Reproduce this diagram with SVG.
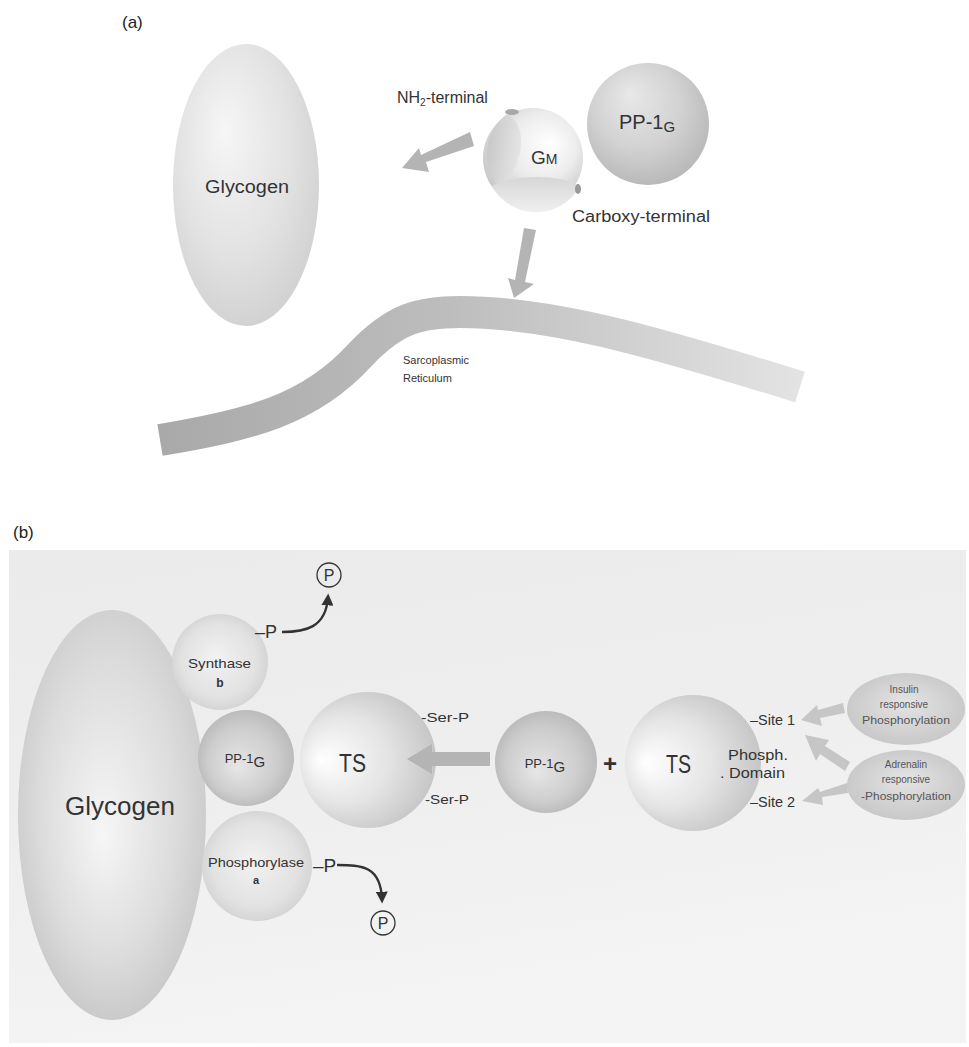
<svg xmlns="http://www.w3.org/2000/svg" width="969" height="1047" viewBox="0 0 969 1047">
  <style>
    text { font-family: "Liberation Sans", Arial, sans-serif; fill: #333; }
    .lbl { font-size: 16px; }
    .sm { font-size: 11px; }
    .tiny { font-size: 10px; fill: #555; }
    .ts { font-size: 25px; }
    .panel { font-size: 17px; fill: #222; }
    .garrow { fill: #b4b4b4; }
    .karrow { fill: #c6c6c6; }
    .pcirc { fill: none; stroke: #333; stroke-width: 1.3; }
    .pline { fill: none; stroke: #333; stroke-width: 2.4; }
  </style>
  <defs>
    <radialGradient id="gGlyA" cx="45%" cy="40%" r="65%" fx="35%" fy="30%">
      <stop offset="0" stop-color="#f6f6f6"/>
      <stop offset="0.6" stop-color="#e2e2e2"/>
      <stop offset="1" stop-color="#cfcfcf"/>
    </radialGradient>
    <radialGradient id="gGM" cx="55%" cy="40%" r="60%" fx="68%" fy="35%">
      <stop offset="0" stop-color="#ffffff"/>
      <stop offset="0.55" stop-color="#ececec"/>
      <stop offset="1" stop-color="#c8c8c8"/>
    </radialGradient>
    <linearGradient id="gGMleft" x1="0" y1="0" x2="1" y2="0.3">
      <stop offset="0" stop-color="#c4c4c4"/>
      <stop offset="1" stop-color="#e4e4e4"/>
    </linearGradient>
    <linearGradient id="gGMbowl" x1="0" y1="0" x2="0" y2="1">
      <stop offset="0" stop-color="#d6d6d6"/>
      <stop offset="1" stop-color="#f0f0f0"/>
    </linearGradient>
    <radialGradient id="gPPA" cx="45%" cy="40%" r="60%" fx="35%" fy="25%">
      <stop offset="0" stop-color="#e8e8e8"/>
      <stop offset="0.6" stop-color="#d2d2d2"/>
      <stop offset="1" stop-color="#b9b9b9"/>
    </radialGradient>
    <linearGradient id="gSR" x1="0" y1="0" x2="1" y2="0">
      <stop offset="0" stop-color="#a9a9a9"/>
      <stop offset="0.45" stop-color="#bdbdbd"/>
      <stop offset="1" stop-color="#e3e3e3"/>
    </linearGradient>
    <linearGradient id="gBg" x1="0" y1="0" x2="0.3" y2="1">
      <stop offset="0" stop-color="#ebebeb"/>
      <stop offset="0.5" stop-color="#eeeeee"/>
      <stop offset="1" stop-color="#f4f4f4"/>
    </linearGradient>
    <radialGradient id="gGlyB" cx="50%" cy="45%" r="60%" fx="45%" fy="55%">
      <stop offset="0" stop-color="#f6f6f6"/>
      <stop offset="0.6" stop-color="#dcdcdc"/>
      <stop offset="1" stop-color="#c4c4c4"/>
    </radialGradient>
    <radialGradient id="gSyn" cx="50%" cy="50%" r="55%" fx="45%" fy="45%">
      <stop offset="0" stop-color="#f2f2f2"/>
      <stop offset="0.7" stop-color="#e2e2e2"/>
      <stop offset="1" stop-color="#d0d0d0"/>
    </radialGradient>
    <radialGradient id="gPPB" cx="50%" cy="50%" r="55%" fx="40%" fy="60%">
      <stop offset="0" stop-color="#e6e6e6"/>
      <stop offset="0.65" stop-color="#cdcdcd"/>
      <stop offset="1" stop-color="#b6b6b6"/>
    </radialGradient>
    <radialGradient id="gTS" cx="45%" cy="50%" r="60%" fx="15%" fy="50%">
      <stop offset="0" stop-color="#ffffff"/>
      <stop offset="0.55" stop-color="#e4e4e4"/>
      <stop offset="1" stop-color="#c2c2c2"/>
    </radialGradient>
    <radialGradient id="gOv" cx="50%" cy="50%" r="60%" fx="50%" fy="40%">
      <stop offset="0" stop-color="#e4e4e4"/>
      <stop offset="1" stop-color="#c4c4c4"/>
    </radialGradient>
    <marker id="ahDark" viewBox="0 0 10 10" refX="7" refY="5" markerWidth="5" markerHeight="5" orient="auto">
      <path d="M0,0 L10,5 L0,10 Z" fill="#333"/>
    </marker>
  </defs>

  <!-- ===== Panel (a) ===== -->
  <text class="panel" x="122" y="28">(a)</text>

  <g id="sarcoplasmic-reticulum">
    <path d="M160,440 C250,425 310,410 360,355 C395,318 420,312 460,312 C560,312 680,350 800,387" fill="none" stroke="url(#gSR)" stroke-width="32"/>
    <text class="sm" x="403" y="364">Sarcoplasmic</text>
    <text class="sm" x="403" y="382">Reticulum</text>
  </g>

  <g id="glycogen-a">
    <ellipse cx="246" cy="185" rx="73" ry="141" fill="url(#gGlyA)"/>
    <text x="247" y="193" font-size="18" text-anchor="middle" textLength="84" lengthAdjust="spacingAndGlyphs">Glycogen</text>
  </g>

  <g id="pp1g-a">
    <circle cx="648" cy="124" r="61" fill="url(#gPPA)"/>
    <text x="619" y="129" font-size="20">PP-1<tspan font-size="15" dy="3">G</tspan></text>
  </g>

  <g id="gm">
    <circle cx="533" cy="158" r="50" fill="url(#gGM)"/>
    <!-- NH2-terminal pocket on the left flank -->
    <path d="M507,114 C526,124 528,160 500,188 A50,50 0 0 1 507,114 Z" fill="url(#gGMleft)"/>
    <ellipse cx="512" cy="112" rx="7" ry="3" fill="#a8a8a8"/>
    <!-- carboxy-terminal bowl at the base -->
    <path d="M492,186 C515,174 560,174 580,186 A50,50 0 0 1 492,186 Z" fill="url(#gGMbowl)"/>
    <ellipse cx="578" cy="189" rx="3" ry="5" fill="#9a9a9a"/>
    <text x="531" y="164" font-size="19">G<tspan font-size="14">M</tspan></text>
  </g>

  <g id="labels-a">
    <text class="lbl" x="397" y="103">NH<tspan font-size="10" dy="3">2</tspan><tspan dy="-3">-terminal</tspan></text>
    <text class="lbl" x="572" y="222" font-size="17" textLength="138" lengthAdjust="spacingAndGlyphs">Carboxy-terminal</text>
  </g>

  <!-- ===== Panel (b) ===== -->
  <text class="panel" x="13" y="538">(b)</text>
  <rect id="panel-b-bg" x="9" y="550" width="957" height="493" fill="url(#gBg)"/>

  <g id="glycogen-b">
    <ellipse cx="112" cy="815" rx="94" ry="205" fill="url(#gGlyB)"/>
    <text x="120" y="815" font-size="25" text-anchor="middle" textLength="110" lengthAdjust="spacingAndGlyphs">Glycogen</text>
  </g>

  <g id="synthase-b">
    <circle cx="220" cy="662" r="48" fill="url(#gSyn)"/>
    <text x="188" y="668" font-size="13" textLength="63" lengthAdjust="spacingAndGlyphs">Synthase</text>
    <text x="220" y="687" font-size="12" font-weight="bold" text-anchor="middle">b</text>
    <text x="255" y="638" font-size="18">–P</text>
  </g>

  <g id="p-released-top">
    <circle class="pcirc" cx="329" cy="575" r="12"/>
    <text x="329" y="581" font-size="16" text-anchor="middle">P</text>
  </g>

  <g id="pp1g-bound">
    <circle cx="246" cy="758" r="48" fill="url(#gPPB)"/>
    <text x="245" y="763" font-size="13" text-anchor="middle">PP-1<tspan font-size="15" dy="4">G</tspan></text>
  </g>

  <g id="phosphorylase-a">
    <circle cx="257" cy="866" r="55" fill="url(#gSyn)"/>
    <text x="208" y="867" font-size="13" textLength="96" lengthAdjust="spacingAndGlyphs">Phosphorylase</text>
    <text x="256" y="884" font-size="11" font-weight="bold" text-anchor="middle">a</text>
    <text x="313" y="872" font-size="19">–P</text>
  </g>

  <g id="p-released-bottom">
    <circle class="pcirc" cx="383" cy="923" r="12"/>
    <text x="383" y="929" font-size="16" text-anchor="middle">P</text>
  </g>

  <g id="ts-bound">
    <circle cx="368" cy="760" r="68" fill="url(#gTS)"/>
    <text x="339" y="772" class="ts" textLength="27" lengthAdjust="spacingAndGlyphs">TS</text>
    <text x="421" y="722" font-size="13" textLength="48" lengthAdjust="spacingAndGlyphs">-Ser-P</text>
    <text x="425" y="804" font-size="13" textLength="44" lengthAdjust="spacingAndGlyphs">-Ser-P</text>
  </g>

  <g id="pp1g-free">
    <circle cx="546" cy="762" r="51" fill="url(#gPPB)"/>
    <text x="545" y="768" font-size="13" text-anchor="middle">PP-1<tspan font-size="15" dy="4">G</tspan></text>
  </g>

  <text id="plus" x="610" y="772" font-size="24" font-weight="bold" text-anchor="middle">+</text>

  <g id="ts-free">
    <circle cx="693" cy="763" r="68" fill="url(#gTS)"/>
    <text x="666" y="773" class="ts" textLength="25" lengthAdjust="spacingAndGlyphs">TS</text>
    <text x="728" y="760" font-size="14" textLength="60" lengthAdjust="spacingAndGlyphs">Phosph.</text>
    <text x="720" y="778" font-size="14" textLength="65" lengthAdjust="spacingAndGlyphs">. Domain</text>
    <text x="750" y="725" font-size="14" textLength="45" lengthAdjust="spacingAndGlyphs">–Site 1</text>
    <text x="750" y="807" font-size="14" textLength="45" lengthAdjust="spacingAndGlyphs">–Site 2</text>
  </g>

  <g id="insulin-kinase">
    <ellipse cx="906" cy="709" rx="59" ry="36" fill="url(#gOv)"/>
    <text class="tiny" x="904" y="693" text-anchor="middle">Insulin</text>
    <text class="tiny" x="904" y="708" text-anchor="middle">responsive</text>
    <text class="tiny" x="906" y="724" text-anchor="middle" textLength="88" lengthAdjust="spacingAndGlyphs">Phosphorylation</text>
  </g>

  <g id="adrenalin-kinase">
    <ellipse cx="906" cy="785" rx="59" ry="35" fill="url(#gOv)"/>
    <text class="tiny" x="906" y="768" text-anchor="middle">Adrenalin</text>
    <text class="tiny" x="906" y="783" text-anchor="middle">responsive</text>
    <text class="tiny" x="906" y="800" text-anchor="middle" textLength="90" lengthAdjust="spacingAndGlyphs">-Phosphorylation</text>
  </g>

  <g id="connectors">
    <!-- panel (a): G_M targets glycogen and the sarcoplasmic reticulum -->
    <polygon class="garrow" points="470,132 474,146 426,162 429,172 402,168 419,148 421,155"/>
    <polygon class="garrow" points="524,228 536,230 525,282 534,284 514,298 508,278 515,280"/>
    <!-- panel (b): dephosphorylation arrows -->
    <path class="pline" d="M282,632 C305,632 326,628 328,597" marker-end="url(#ahDark)"/>
    <path class="pline" d="M337,865 C362,865 381,866 382,900" marker-end="url(#ahDark)"/>
    <!-- PP-1G binding to TS -->
    <polygon class="garrow" points="490,752 490,766 432,766 432,774 407,759 432,744 432,752"/>
    <!-- kinase arrows onto the phosphorylation sites -->
    <polygon class="karrow" points="843,703 845,713 820,718 822,726 801,720 817,705 818,710"/>
    <polygon class="karrow" points="850,762 845,771 820,754 816,761 805,735 829,740 825,746"/>
    <polygon class="karrow" points="847,783 848,793 822,797 823,805 802,801 818,788 820,792"/>
  </g>
</svg>
